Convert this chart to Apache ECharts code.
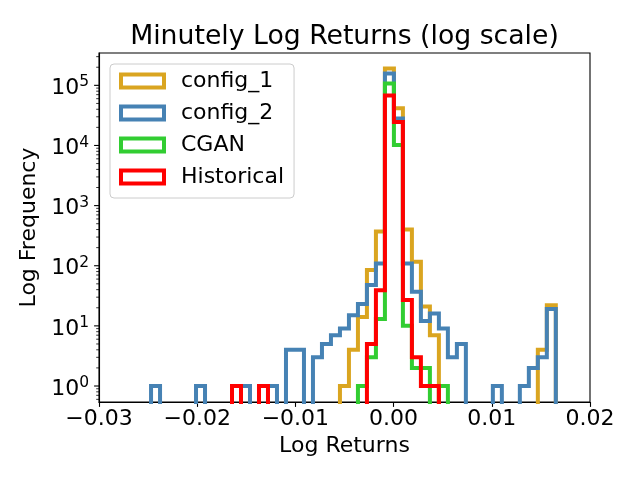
<!DOCTYPE html>
<html><head><meta charset="utf-8">
<script src="https://cdn.jsdelivr.net/npm/echarts@6/dist/echarts.min.js"></script>
<style>html,body{margin:0;padding:0;background:#fff}#c{width:640px;height:480px}</style>
</head><body><div id="c"></div>
<script>
// Histogram bins (shared): first edge and bin width
const binStart = -0.0247;
const binWidth = 0.000916;
// Counts per bin (45 bins)
const config1 = [0,0,0,0,0, 0,0,0,0,0, 0,0,0,0,0, 0,0,0,0,0, 0,1,4,14,85, 370,190000,41500,400,116, 21,7,0,0,0, 0,0,0,0,0, 0,0,0,4,22];
const config2 = [1,0,0,0,0, 1,0,0,0,0, 1,0,0,1,0, 4,4,0,3,5, 7,9,15,23,48, 109,158000,28000,109,37, 12,16,9,3,5, 0,0,0,1,0, 0,1,2,3,19];
const cgan = [0,0,0,0,0, 0,0,0,0,0, 0,0,0,0,0, 0,0,0,0,0, 0,0,0,1,3, 13,107000,10200,10,2, 2,0,1,0,0, 0,0,0,0,0, 0,0,0,0,0];
const historical = [0,0,0,0,0, 0,0,0,0,1, 0,0,1,0,0, 0,0,0,0,0, 0,0,0,0,5, 39,68000,24600,27,3, 1,1,0,0,0, 0,0,0,0,0, 0,0,0,0,0];
const seriesNames = ['config_1','config_2','CGAN','Historical'];
const seriesCounts = [config1, config2, cgan, historical];
const seriesColors = ['#DAA520','#4682B4','#32CD32','#FF0000'];
const xTickValues = [-0.03,-0.02,-0.01,0,0.01,0.02];
const yMajorTicks = [1,10,100,1000,10000,100000];
const yMinorTicks = [0.6,0.7,0.8,0.9, 2,3,4,5,6,7,8,9, 20,30,40,50,60,70,80,90, 200,300,400,500,600,700,800,900,
  2000,3000,4000,5000,6000,7000,8000,9000, 20000,30000,40000,50000,60000,70000,80000,90000, 200000,300000];

const X_MIN = -0.03, X_MAX = 0.02, Y_MIN = 0.542, Y_MAX = 345000;
const FLOOR = 0.01; // below axis, clipped (zero counts)
const FONT = 'DejaVu Sans';

function stepOutline(counts) {
  const pts = [];
  pts.push([binStart, FLOOR]);
  for (let i = 0; i < counts.length; i++) {
    const l = binStart + i * binWidth, r = binStart + (i + 1) * binWidth;
    const c = counts[i] > 0 ? counts[i] : FLOOR;
    pts.push([l, c]); pts.push([r, c]);
  }
  pts.push([binStart + counts.length * binWidth, FLOOR]);
  return pts;
}

const series = seriesNames.map((n, i) => ({
  name: n, type: 'line', data: stepOutline(seriesCounts[i]),
  showSymbol: false, symbol: 'none', clip: true, z: 2 + i,
  lineStyle: { color: seriesColors[i], width: 4, join: 'miter', cap: 'butt' },
  itemStyle: { color: seriesColors[i] },
  emphasis: { disabled: true }, animation: false
}));

series.push({
  name: '_ticks', type: 'custom', coordinateSystem: 'cartesian2d', silent: true, clip: false, z: 10,
  data: yMajorTicks.map(v => [X_MIN, v, 1]).concat(yMinorTicks.map(v => [X_MIN, v, 0])),
  renderItem: function (params, api) {
    const p = api.coord([api.value(0), api.value(1)]);
    const major = api.value(2) === 1;
    const len = major ? 4.9 : 2.8;
    return { type: 'line', shape: { x1: p[0] - len, y1: p[1], x2: p[0], y2: p[1] },
      style: { stroke: '#000', lineWidth: major ? 1.1 : 0.8 } };
  },
  animation: false
});

const chart = echarts.init(document.getElementById('c'), null, { renderer: 'canvas' });
chart.setOption({
  backgroundColor: '#ffffff',
  animation: false,
  title: {
    text: 'Minutely Log Returns (log scale)', left: 344.5, top: 24, padding: 0, textAlign: 'center',
    textStyle: { fontFamily: FONT, fontSize: 26.7, fontWeight: 'normal', color: '#000', lineHeight: 27 }
  },
  grid: { left: 99, right: 50, top: 53, bottom: 78, show: true, borderColor: '#000', borderWidth: 1.1, backgroundColor: 'transparent' },
  legend: {
    left: 110, top: 64, orient: 'vertical', selectedMode: false,
    data: seriesNames.map((n, i) => ({ name: n, icon: 'rect',
      itemStyle: { color: 'rgba(0,0,0,0)', borderColor: seriesColors[i], borderWidth: 4 } })),
    itemWidth: 43, itemHeight: 13, itemGap: 10,
    textStyle: { fontFamily: FONT, fontSize: 22, color: '#000', lineHeight: 22, padding: [0, 0, 0, 12] },
    backgroundColor: 'rgba(255,255,255,0.8)', borderColor: '#cccccc', borderWidth: 1, borderRadius: 4,
    padding: [6, 10, 10, 9]
  },
  xAxis: {
    type: 'value', min: X_MIN, max: X_MAX, interval: 0.01,
    name: 'Log Returns', nameLocation: 'middle', nameGap: 31,
    nameTextStyle: { fontFamily: FONT, fontSize: 22, color: '#000', lineHeight: 22 },
    axisLine: { show: true, onZero: false, lineStyle: { color: '#000', width: 1.1 } },
    axisTick: { show: true, length: 4.9, lineStyle: { color: '#000', width: 1.1 } },
    splitLine: { show: false },
    axisLabel: {
      margin: 6, fontFamily: FONT, fontSize: 22, color: '#000', lineHeight: 22,
      formatter: function (v) {
        if (Math.abs(v) < 1e-9) return '0.00';
        return (v < 0 ? '\u2212' : '') + Math.abs(v).toFixed(2);
      }
    }
  },
  yAxis: {
    type: 'log', logBase: 10, min: Y_MIN, max: Y_MAX,
    name: 'Log Frequency', nameLocation: 'middle', nameGap: 51, nameRotate: 90,
    nameTextStyle: { fontFamily: FONT, fontSize: 22, color: '#000', lineHeight: 22 },
    axisLine: { show: true, onZero: false, lineStyle: { color: '#000', width: 1.1 } },
    axisTick: { show: false },
    splitLine: { show: false },
    minorTick: { show: false },
    axisLabel: {
      margin: 10, color: '#000', padding: [6, 0, 0, 0],
      formatter: function (v) {
        const e = Math.log10(v), r = Math.round(e);
        if (Math.abs(e - r) > 1e-6) return '';
        return '{b|10}{e|' + r + '}';
      },
      rich: {
        b: { fontFamily: FONT, fontSize: 22, color: '#000', lineHeight: 22, verticalAlign: 'bottom' },
        e: { fontFamily: FONT, fontSize: 15.5, color: '#000', lineHeight: 16, padding: [0, 0, 9, 0], verticalAlign: 'bottom' }
      }
    }
  },
  series: series
});
</script>
</body></html>
